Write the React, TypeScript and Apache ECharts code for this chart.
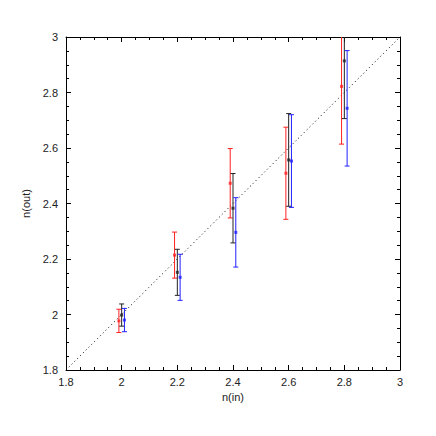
import React, { useEffect, useRef } from "react";
import * as echarts from "echarts";

const redX = [1.99, 2.19, 2.39, 2.59, 2.79];
const redY = [1.977, 2.214, 2.473, 2.509, 2.822];
const redErr = [0.042, 0.083, 0.125, 0.166, 0.208];

const blackX = [2.0, 2.2, 2.4, 2.6, 2.8];
const blackY = [1.998, 2.152, 2.383, 2.557, 2.914];
const blackErr = [0.04, 0.083, 0.125, 0.167, 0.208];

const blueX = [2.01, 2.21, 2.41, 2.61, 2.81];
const blueY = [1.98, 2.134, 2.296, 2.553, 2.743];
const blueErr = [0.042, 0.083, 0.125, 0.167, 0.208];

const diagonal = [
  [1.8, 1.8],
  [3, 3],
];

const FONT = "Liberation Sans";

function fmt(v: number) {
  return String(+v.toFixed(2));
}

function errSeries(xs: number[], ys: number[], es: number[], color: string) {
  return {
    type: "custom",
    clip: true,
    data: xs.map((x, i) => [x, ys[i] - es[i], ys[i] + es[i]]),
    renderItem: (params: any, api: any) => {
      const x = api.value(0);
      const lo = api.coord([x, api.value(1)]);
      const hi = api.coord([x, api.value(2)]);
      const cap = 2.5;
      const style = { stroke: color, lineWidth: 1 };
      return {
        type: "group",
        children: [
          { type: "line", shape: { x1: lo[0], y1: lo[1], x2: hi[0], y2: hi[1] }, style },
          { type: "line", shape: { x1: lo[0] - cap, y1: lo[1], x2: lo[0] + cap, y2: lo[1] }, style },
          { type: "line", shape: { x1: hi[0] - cap, y1: hi[1], x2: hi[0] + cap, y2: hi[1] }, style },
        ],
      };
    },
    z: 3,
  };
}

function ptSeries(xs: number[], ys: number[], color: string) {
  return {
    type: "scatter",
    data: xs.map((x, i) => [x, ys[i]]),
    symbol: "rect",
    symbolSize: 3,
    itemStyle: { color },
    z: 4,
  };
}

export default function App() {
  const ref = useRef<HTMLDivElement>(null);
  useEffect(() => {
    const chart = echarts.init(ref.current!, null, { renderer: "svg" });
    const axisCommon = {
      type: "value",
      min: 1.8,
      max: 3,
      interval: 0.2,
      axisLine: { show: true, lineStyle: { color: "#000", width: 1 } },
      axisTick: { show: true, inside: true, length: 5, lineStyle: { color: "#000" } },
      minorTick: { show: true, splitNumber: 4, length: 3, lineStyle: { color: "#000" } },
      splitLine: { show: false },
      minorSplitLine: { show: false },
    };
    chart.setOption({
      animation: false,
      backgroundColor: "#fff",
      grid: { left: 58, right: 28, top: 29, bottom: 58 },
      xAxis: [
        {
          ...axisCommon,
          position: "bottom",
          name: "n(in)",
          nameLocation: "middle",
          nameGap: 16,
          nameTextStyle: { fontFamily: FONT, fontSize: 11, color: "#222" },
          axisLabel: { formatter: fmt, fontFamily: FONT, fontSize: 11, color: "#222", margin: 6 },
        },
        {
          ...axisCommon,
          position: "top",
          axisLabel: { show: false },
        },
      ],
      yAxis: [
        {
          ...axisCommon,
          position: "left",
          name: "n(out)",
          nameLocation: "middle",
          nameGap: 29,
          nameRotate: 90,
          nameTextStyle: { fontFamily: FONT, fontSize: 11, color: "#222" },
          axisLabel: { formatter: fmt, fontFamily: FONT, fontSize: 11, color: "#222", margin: 8 },
        },
        {
          ...axisCommon,
          position: "right",
          axisLabel: { show: false },
        },
      ],
      series: [
        {
          type: "line",
          data: diagonal,
          symbol: "none",
          lineStyle: { color: "#000", width: 1, type: [1, 3] },
          z: 2,
        },
        errSeries(redX, redY, redErr, "#ff2020"),
        errSeries(blackX, blackY, blackErr, "#222"),
        errSeries(blueX, blueY, blueErr, "#2020ff"),
        ptSeries(redX, redY, "#ff2020"),
        ptSeries(blackX, blackY, "#222"),
        ptSeries(blueX, blueY, "#2020ff"),
      ],
    });
    return () => chart.dispose();
  }, []);
  return <div ref={ref} style={{ width: 420, height: 420 }} />;
}
